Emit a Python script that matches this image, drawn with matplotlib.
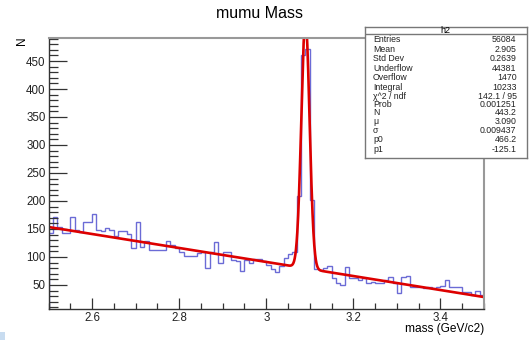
import numpy as np
import matplotlib.pyplot as plt
from matplotlib.patches import Rectangle
from matplotlib.ticker import MultipleLocator

plt.rcParams['font.family'] = ['Liberation Sans', 'DejaVu Sans']

# histogram h2: 100 bins from 2.5 to 3.5
x_lo, x_hi, n_bins = 2.5, 3.5, 100
counts = [142, 172, 154, 142, 142, 171, 148, 144, 162, 162,
          177, 149, 146, 152, 148, 138, 146, 146, 141, 116,
          162, 118, 128, 112, 112, 113, 113, 128, 122, 116,
          108, 101, 101, 101, 107, 108, 80, 108, 126, 90,
          108, 108, 95, 92, 74, 94, 89, 96, 96, 92,
          86, 79, 73, 83, 98, 105, 108, 209, 461, 471,
          202, 79, 76, 80, 83, 62, 53, 50, 82, 62,
          62, 59, 62, 53, 56, 53, 53, 59, 65, 53,
          36, 65, 66, 46, 47, 47, 44, 47, 44, 47,
          48, 59, 47, 47, 46, 38, 38, 32, 40, 32]

# gaus + pol1 fit parameters from the stats box
fit_N, fit_mu, fit_sigma = 443.2, 3.090, 0.009437
fit_p0, fit_p1 = 466.2, -125.1

stat_names = ["Entries", "Mean", "Std Dev", "Underflow", "Overflow", "Integral",
              "\u03c7^2 / ndf", "Prob", "N", "\u03bc", "\u03c3", "p0", "p1"]
stat_values = ["56084", "2.905", "0.2639", "44381", "1470", "10233",
               "142.1 / 95", "0.001251", "443.2", "3.090", "0.009437", "466.2", "-125.1"]

W, H = 529, 340
fig = plt.figure(figsize=(W / 100, H / 100), dpi=100)

# frame in pixels
L, R, T, B = 48.5, 484, 37.5, 309
ax = fig.add_axes([L / W, 1 - B / H, (R - L) / W, (B - T) / H])

edges = np.linspace(x_lo, x_hi, n_bins + 1)
ax.stairs(counts, edges, color='#6b6bd6', lw=1)

xf = np.linspace(x_lo, x_hi, 2000)
yf = fit_N * np.exp(-0.5 * ((xf - fit_mu) / fit_sigma) ** 2) + fit_p0 + fit_p1 * xf
ax.plot(xf, yf, color='#dd0000', lw=1.9)

ax.set_xlim(x_lo, x_hi)
ax.set_ylim(7, 492)

ax.set_xticks([2.6, 2.8, 3.0, 3.2, 3.4])
ax.set_xticklabels(["2.6", "2.8", "3", "3.2", "3.4"])
ax.xaxis.set_minor_locator(MultipleLocator(0.05))
ax.set_yticks([50, 100, 150, 200, 250, 300, 350, 400, 450])
ax.yaxis.set_minor_locator(MultipleLocator(10))

ax.tick_params(axis='both', which='both', direction='in', top=False, right=False,
               labelsize=8.3, colors='#333333', labelcolor='#222222', width=0.9)
ax.tick_params(axis='x', which='major', length=8, pad=2.5)
ax.tick_params(axis='x', which='minor', length=4)
ax.tick_params(axis='y', which='major', length=13, pad=2)
ax.tick_params(axis='y', which='minor', length=6.5)

for s in ['left', 'bottom']:
    ax.spines[s].set_color('#333333')
    ax.spines[s].set_linewidth(1)
for s in ['top', 'right']:
    ax.spines[s].set_color('#999999')
    ax.spines[s].set_linewidth(1.5)

fig.text(260 / W, 1 - 13 / H, "mumu Mass", ha='center', va='center', fontsize=11.5)
fig.text(22 / W, 1 - 36 / H, "N", ha='center', va='top', rotation=90, fontsize=8.5)
fig.text(484 / W, 1 - 329 / H, "mass (GeV/c2)", ha='right', va='center', fontsize=8.6)

# stats box
bx0, bx1, by0, by1 = 364.5, 526.5, 27, 158
sax = fig.add_axes([bx0 / W, 1 - by1 / H, (bx1 - bx0) / W, (by1 - by0) / H])
sax.set_xlim(0, bx1 - bx0)
sax.set_ylim(by1 - by0, 0)
sax.set_xticks([])
sax.set_yticks([])
sax.set_facecolor('white')
for s in sax.spines.values():
    s.set_color('#777777')
    s.set_linewidth(1)
sax.axhline(7.3, color='#777777', lw=1)
sax.text((bx1 - bx0) / 2, 3.5, "h2", ha='center', va='center', fontsize=6.5)
row_y = [12.3, 22, 31.7, 41.3, 51, 60.7, 69.5, 77.5, 85.3, 94.3, 103.7, 113, 123]
for name, val, yy in zip(stat_names, stat_values, row_y):
    sax.text(8.5, yy, name, ha='left', va='center', fontsize=6.3, color='#222222')
    sax.text(152, yy, val, ha='right', va='center', fontsize=6.3, color='#222222')

# small canvas marker at bottom left
fig.patches.append(Rectangle((0, 0), 5 / W, 8 / H, transform=fig.transFigure,
                             facecolor='#c8dcf0', edgecolor='none'))

fig.savefig("out.png", dpi=100)
